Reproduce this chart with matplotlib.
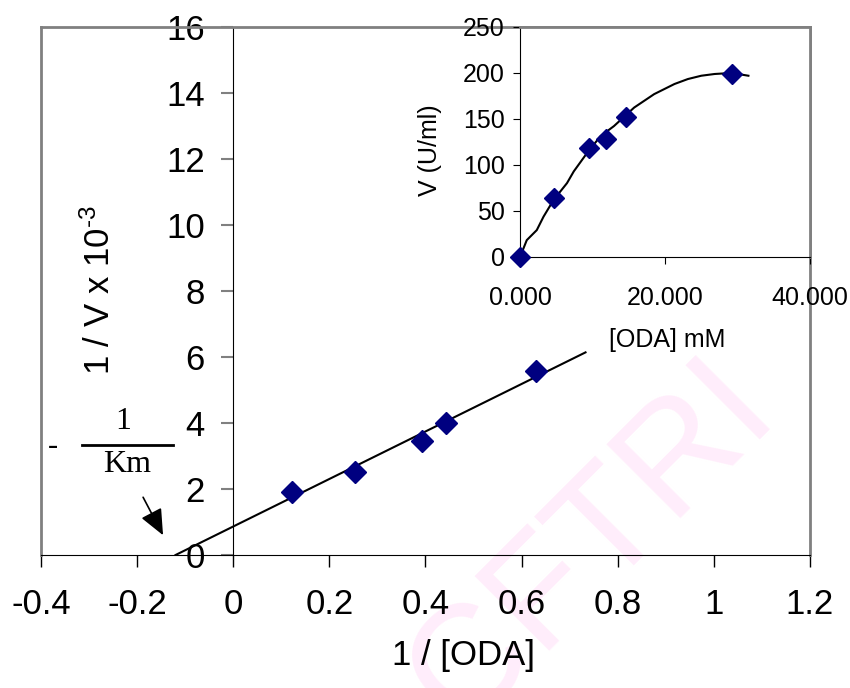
import matplotlib
matplotlib.use('Agg')
import matplotlib.pyplot as plt
import numpy as np

# Global
plt.rcParams['font.family'] = 'Liberation Sans'
plt.rcParams['mathtext.fontset'] = 'custom'
plt.rcParams['mathtext.rm'] = 'Liberation Sans'
plt.rcParams['mathtext.it'] = 'Liberation Sans'

# Lineweaver-Burk data (main plot)
inv_s = [0.122, 0.253, 0.392, 0.442, 0.629]
inv_v = [1.92, 2.51, 3.44, 3.99, 5.59]
trend_x = [-0.12, 0.733]
trend_y = [0.0, 6.14]
main_xticks = [-0.4, -0.2, 0, 0.2, 0.4, 0.6, 0.8, 1, 1.2]
main_xlabels = ['-0.4', '-0.2', '0', '0.2', '0.4', '0.6', '0.8', '1', '1.2']
main_yticks = [0, 2, 4, 6, 8, 10, 12, 14, 16]

# Michaelis-Menten data (inset)
oda = [0.0, 4.63, 9.58, 11.8, 14.6, 29.2]
vel = [0.0, 63.9, 118.6, 127.7, 152.6, 198.9]
curve_x = [0, 0.93, 2.31, 3.24, 4.63, 6.48, 7.41, 9.26, 11.1, 12.96, 15.74,
           18.5, 21.3, 23.15, 25.0, 26.85, 29.2, 31.5]
curve_y = [0, 18.3, 29.2, 43.8, 62.0, 80.3, 93.0, 113.2, 131.3, 142.3, 162.4,
           177.0, 188.0, 193.4, 197.0, 198.9, 200.0, 197.0]
inset_xticks = [0, 20, 40]
inset_xlabels = ['0.000', '20.000', '40.000']
inset_yticks = [0, 50, 100, 150, 200, 250]

fig = plt.figure(figsize=(8.5, 6.88), dpi=100)

# main axes
ax = fig.add_axes([0.0482, 0.1933, 0.9047, 0.7675])
ax.set_xlim(-0.4, 1.2)
ax.set_ylim(0, 16)
ax.plot(trend_x, trend_y, color='black', linewidth=1.5, zorder=3)
ax.plot(inv_s, inv_v, linestyle='none', marker='D', markersize=11,
        color='#000080', zorder=4)

ax.spines['left'].set_position(('data', 0))
ax.spines['left'].set_color('black')
ax.spines['bottom'].set_color('black')
for s in ['top', 'right']:
    ax.spines[s].set_color('#808080')
    ax.spines[s].set_linewidth(2)
# gray frame left edge
ax.plot([0, 0], [0, 1], transform=ax.transAxes, color='#808080',
        linewidth=2, clip_on=False)

ax.set_xticks(main_xticks, main_xlabels)
ax.set_yticks(main_yticks, [str(t) for t in main_yticks])
ax.tick_params(axis='x', direction='out', length=8.5, width=1,
               color='black', labelsize=25, pad=15)
ax.tick_params(axis='y', direction='out', length=8.5, width=1.5,
               color='#808080', labelsize=25, pad=12)

fig.text(100 / 850, 1 - 290 / 688, r'1 / V x 10$^{\text{-3}}$',
         rotation=90, ha='center', va='center', fontsize=25)
fig.text(463 / 850, 1 - 655 / 688, '1 / [ODA]', ha='center', va='center',
         fontsize=25)

# -1/Km annotation
ax.text(-0.375, 3.3, '-', fontsize=22, family='Liberation Serif',
        ha='center', va='center')
ax.text(-0.229, 4.05, '1', fontsize=23, family='Liberation Serif',
        ha='center', va='center')
ax.plot([-0.315, -0.125], [3.33, 3.33], color='black', linewidth=2)
ax.text(-0.221, 2.73, 'Km', fontsize=23, family='Liberation Serif',
        ha='center', va='center')
ax.annotate('', xy=(-0.146, 0.6), xytext=(-0.1875, 1.75),
            arrowprops=dict(arrowstyle='-|>,head_length=0.64,head_width=0.28',
                            color='black', lw=1.2, mutation_scale=25,
                            shrinkA=0, shrinkB=0))

# watermark
ax.text(592 / 850, 1 - 545 / 688, 'CFTRI', transform=fig.transFigure,
        rotation=45, fontsize=110, color='#ffedfb', ha='center',
        va='center', zorder=0, clip_on=False)

# inset axes
ins = fig.add_axes([0.6118, 0.6265, 0.3412, 0.3343])
ins.set_xlim(0, 40)
ins.set_ylim(0, 250)
ins.plot(curve_x, curve_y, color='black', linewidth=1.5, zorder=3)
ins.plot(oda, vel, linestyle='none', marker='D', markersize=10,
         color='#000080', zorder=4, clip_on=False)
for s in ['top', 'right']:
    ins.spines[s].set_color('#808080')
    ins.spines[s].set_linewidth(2)
ins.set_xticks(inset_xticks, inset_xlabels)
ins.set_yticks(inset_yticks, [str(t) for t in inset_yticks])
ins.tick_params(axis='x', direction='out', length=5, labelsize=18, pad=16)
ins.tick_params(axis='y', direction='out', length=5, labelsize=18, pad=6)

fig.text(667 / 850, 1 - 340 / 688, '[ODA] mM', ha='center', va='center',
         fontsize=18)
fig.text(430 / 850, 1 - 150 / 688, 'V (U/ml)', rotation=90, ha='center',
         va='center', fontsize=18)

fig.savefig('out.png', dpi=100)
